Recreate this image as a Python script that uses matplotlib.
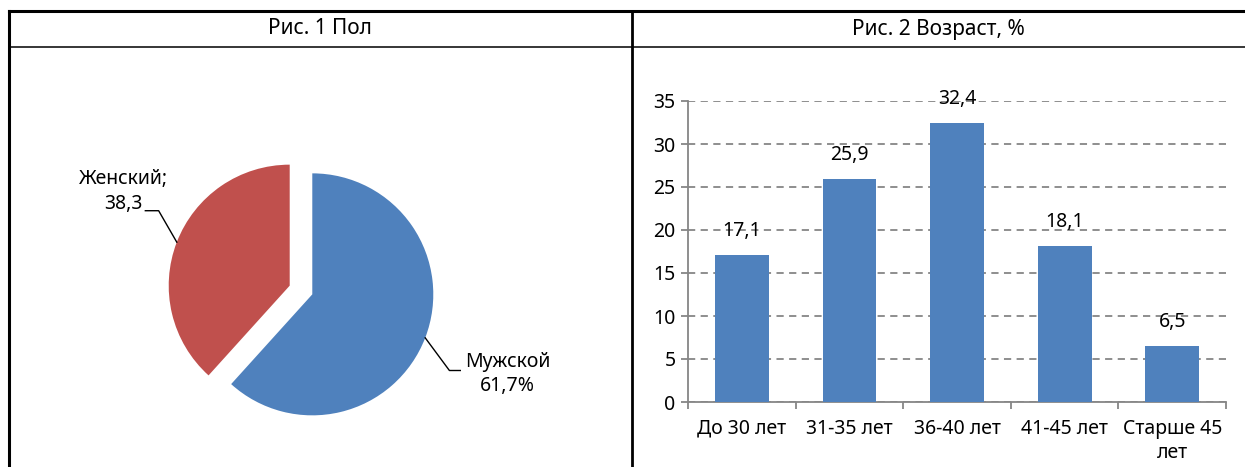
import matplotlib
matplotlib.use("Agg")
import matplotlib.pyplot as plt
import numpy as np
from matplotlib.lines import Line2D

plt.rcParams['font.family'] = ['Noto Sans', 'DejaVu Sans']

# data
gender_labels = ["Мужской", "Женский"]
gender_values = [61.7, 38.3]
gender_texts = ["Мужской\n61,7%", "Женский;\n38,3"]

age_groups = ["До 30 лет", "31-35 лет", "36-40 лет", "41-45 лет", "Старше 45\nлет"]
age_values = [17.1, 25.9, 32.4, 18.1, 6.5]
age_texts = ["17,1", "25,9", "32,4", "18,1", "6,5"]

blue = "#4F81BD"
red = "#C0504D"
grey = "#868686"

W, H = 1245, 467
fig = plt.figure(figsize=(W / 100, H / 100), dpi=100)

def fx(px):
    return px / W

def fy(py):
    return 1 - py / H

# table lines
for x0, y0, x1, y1, lw in [(9, 11, 1245, 11, 2.2), (9, 47, 1245, 47, 1.1),
                           (9, 11, 9, 467, 2.2), (632, 11, 632, 467, 2.0)]:
    fig.add_artist(Line2D([fx(x0), fx(x1)], [fy(y0), fy(y1)], color="black", lw=lw))

fig.text(fx(320), fy(29), "Рис. 1 Пол", ha="center", va="center", fontsize=15)
fig.text(fx(938), fy(29), "Рис. 2 Возраст, %", ha="center", va="center", fontsize=15)

# pie
cx, cy, half = 301, 290, 150
axp = fig.add_axes([fx(cx - half), fy(cy + half), 2 * half / W, 2 * half / H])
wedges, _ = axp.pie(gender_values, colors=[blue, red], startangle=90, counterclock=False,
                    explode=[0.1, 0.1])
axp.set_xlim(-half / 121, half / 121)
axp.set_ylim(-half / 121, half / 121)
axp.set_aspect("equal")
axp.axis("off")

# leader lines + labels (offsets in pie units)
label_layout = [
    dict(elbow=(0.20, -0.27), tail=0.09, text_off=(0.68, -0.30)),
    dict(elbow=(-0.15, 0.26), tail=-0.11, text_off=(-0.44, 0.42)),
]
for w, txt, lay in zip(wedges, gender_texts, label_layout):
    ang = np.deg2rad((w.theta1 + w.theta2) / 2)
    r = w.r
    ox, oy = w.center
    ax0 = ox + r * np.cos(ang)
    ay0 = oy + r * np.sin(ang)
    ex, ey = ax0 + lay["elbow"][0], ay0 + lay["elbow"][1]
    axp.plot([ax0, ex, ex + lay["tail"]], [ay0, ey, ey], color="black", lw=1.0, clip_on=False)
    axp.text(ax0 + lay["text_off"][0], ay0 + lay["text_off"][1],
             txt, ha="center", va="center", fontsize=14, linespacing=1.3, clip_on=False)

# bars
axb = fig.add_axes([fx(688), fy(402), (1226 - 688) / W, (402 - 101) / H])
x = np.arange(len(age_groups))
axb.bar(x, age_values, width=0.5, color=blue, zorder=3)
axb.set_xlim(-0.5, len(age_groups) - 0.5)
axb.set_ylim(0, 35)
axb.set_yticks(np.arange(0, 36, 5))
axb.yaxis.grid(True, linestyle=(0, (4, 3)), color=grey, lw=1.3)
axb.set_axisbelow(True)
axb.set_xticks(x)
axb.set_xticklabels(age_groups, fontsize=14, linespacing=1.3)
axb.set_xticks(np.arange(-0.5, len(age_groups), 1), minor=True)
axb.tick_params(axis="x", which="major", length=0, pad=12)
axb.tick_params(axis="x", which="minor", length=5, color=grey, width=1.3)
axb.tick_params(axis="y", length=5, color=grey, width=1.3, labelsize=14, pad=4)
for s in ["top", "right"]:
    axb.spines[s].set_visible(False)
for s in ["left", "bottom"]:
    axb.spines[s].set_color(grey)
    axb.spines[s].set_linewidth(1.3)

for xi, v, t in zip(x, age_values, age_texts):
    axb.annotate(t, (xi, v), xytext=(0, 10), textcoords="offset points",
                 ha="center", va="bottom", fontsize=14)

fig.savefig("out.png", dpi=100)
